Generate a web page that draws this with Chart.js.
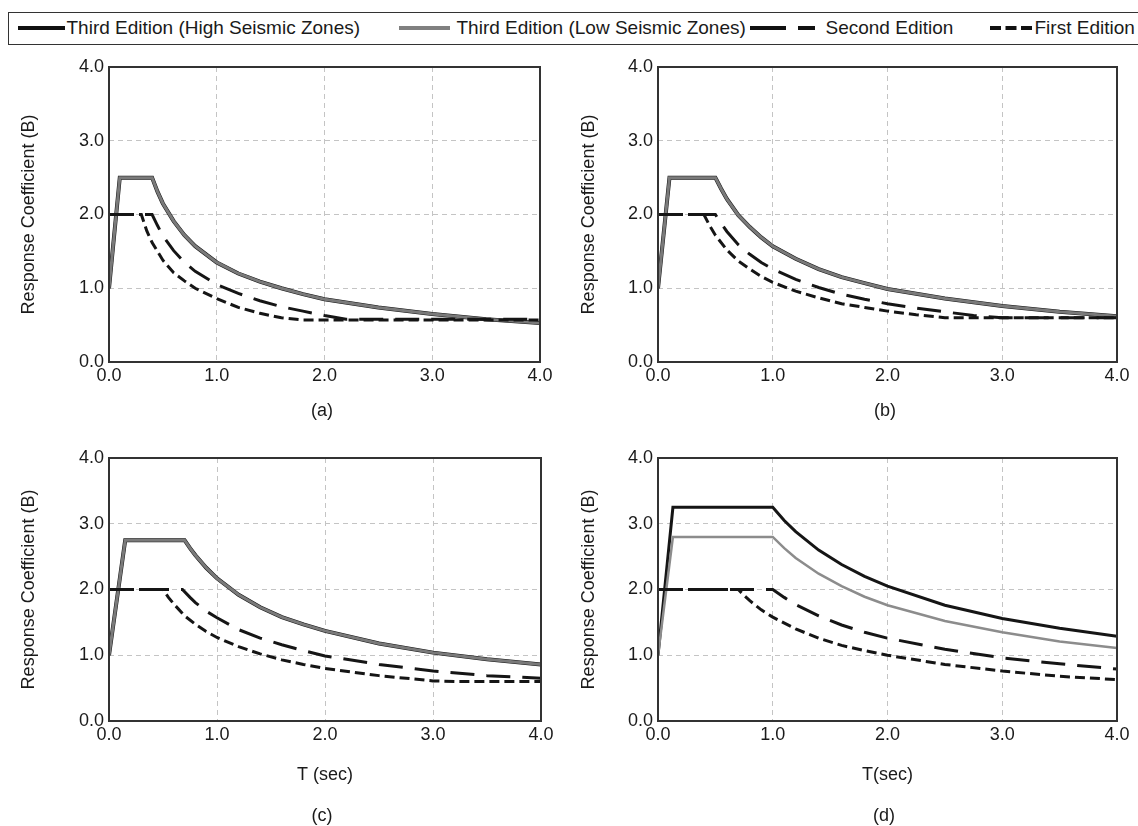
<!DOCTYPE html>
<html>
<head>
<meta charset="utf-8">
<script src="https://cdn.jsdelivr.net/npm/chart.js@4.4.1/dist/chart.umd.min.js"></script>
<style>
  body { margin: 0; background: #fff; font-family: "Liberation Sans", Arial, sans-serif; color: #1a1a1a; }
  #wrap { position: relative; width: 1138px; height: 826px; overflow: hidden; }
  .panel { position: absolute; }
  .cap { position: absolute; font-size: 18px; transform: translate(-50%, -50%); }
  #legend { position: absolute; left: 8px; top: 12px; width: 1140px; height: 33px; border: 1.5px solid #333; box-sizing: border-box; }
  .lg { position: absolute; top: 0; height: 30px; line-height: 30px; font-size: 19px; white-space: nowrap; }
</style>
</head>
<body>
<div id="wrap">
  <div id="legend">
    <svg class="lg" style="left:8.5px" width="47" height="30"><line x1="0" y1="15" x2="47" y2="15" stroke="#111" stroke-width="4"/></svg>
    <span class="lg" style="left:57.5px">Third Edition (High Seismic Zones)</span>
    <svg class="lg" style="left:389.5px" width="51" height="30"><line x1="0" y1="15" x2="51" y2="15" stroke="#808080" stroke-width="4"/></svg>
    <span class="lg" style="left:447.5px">Third Edition (Low Seismic Zones)</span>
    <svg class="lg" style="left:740.5px" width="65" height="30"><line x1="0" y1="15" x2="65" y2="15" stroke="#111" stroke-width="4" stroke-dasharray="36 12"/></svg>
    <span class="lg" style="left:816.5px">Second Edition</span>
    <svg class="lg" style="left:980.5px" width="42" height="30"><line x1="0" y1="15" x2="42" y2="15" stroke="#111" stroke-width="4" stroke-dasharray="11 4.5"/></svg>
    <span class="lg" style="left:1025.5px">First Edition</span>
  </div>

  <canvas id="chA" class="panel" style="left:0;top:50px" width="570" height="345"></canvas>
  <canvas id="chB" class="panel" style="left:549px;top:50px" width="589" height="345"></canvas>
  <canvas id="chC" class="panel" style="left:0;top:420px" width="570" height="370"></canvas>
  <canvas id="chD" class="panel" style="left:549px;top:420px" width="589" height="370"></canvas>

  <div class="cap" style="left:322px;top:410px">(a)</div>
  <div class="cap" style="left:885px;top:410px">(b)</div>
  <div class="cap" style="left:322px;top:815px">(c)</div>
  <div class="cap" style="left:884px;top:815px">(d)</div>
</div>

<script>
// ---- data (T in sec, B = response coefficient) ----
const axisTicks = [0, 1, 2, 3, 4];

// (a)
const aLowT = [0, 0.1, 0.4, 0.45, 0.5, 0.6, 0.7, 0.8, 1.0, 1.2, 1.4, 1.6, 1.8, 2.0, 2.5, 3.0, 3.5, 4.0];
const aLowB = [1.0, 2.5, 2.5, 2.31, 2.15, 1.91, 1.72, 1.57, 1.35, 1.2, 1.09, 1.0, 0.92, 0.85, 0.74, 0.65, 0.58, 0.53];
const aSecT = [0, 0.4, 0.45, 0.5, 0.6, 0.7, 0.8, 1.0, 1.2, 1.4, 1.6, 1.8, 2.0, 2.2, 4.0];
const aSecB = [2.0, 2.0, 1.85, 1.71, 1.51, 1.35, 1.23, 1.05, 0.93, 0.83, 0.75, 0.69, 0.63, 0.58, 0.58];
const aFirT = [0, 0.3, 0.35, 0.4, 0.5, 0.6, 0.7, 0.8, 1.0, 1.2, 1.4, 1.6, 1.8, 4.0];
const aFirB = [2.0, 2.0, 1.78, 1.62, 1.38, 1.21, 1.1, 1.0, 0.86, 0.74, 0.66, 0.6, 0.57, 0.57];

// (b)
const bLowT = [0, 0.1, 0.5, 0.55, 0.6, 0.7, 0.8, 0.9, 1.0, 1.2, 1.4, 1.6, 1.8, 2.0, 2.5, 3.0, 3.5, 4.0];
const bLowB = [1.0, 2.5, 2.5, 2.35, 2.21, 1.99, 1.83, 1.69, 1.57, 1.4, 1.26, 1.15, 1.07, 0.99, 0.86, 0.76, 0.68, 0.62];
const bSecT = [0, 0.5, 0.55, 0.6, 0.7, 0.8, 0.9, 1.0, 1.2, 1.4, 1.6, 1.8, 2.0, 2.25, 2.5, 2.75, 3.0, 4.0];
const bSecB = [2.0, 2.0, 1.88, 1.77, 1.59, 1.46, 1.35, 1.26, 1.12, 1.01, 0.92, 0.85, 0.79, 0.73, 0.68, 0.63, 0.6, 0.6];
const bFirT = [0, 0.4, 0.45, 0.5, 0.6, 0.7, 0.8, 0.9, 1.0, 1.2, 1.4, 1.6, 1.8, 2.0, 2.25, 2.5, 4.0];
const bFirB = [2.0, 2.0, 1.85, 1.72, 1.52, 1.37, 1.26, 1.16, 1.08, 0.96, 0.87, 0.79, 0.74, 0.69, 0.64, 0.6, 0.6];

// (c)
const cLowT = [0, 0.15, 0.7, 0.75, 0.8, 0.9, 1.0, 1.2, 1.4, 1.6, 1.8, 2.0, 2.5, 3.0, 3.5, 4.0];
const cLowB = [1.0, 2.75, 2.75, 2.63, 2.52, 2.33, 2.17, 1.92, 1.73, 1.58, 1.47, 1.37, 1.18, 1.04, 0.94, 0.86];
const cSecT = [0, 0.68, 0.75, 0.8, 0.9, 1.0, 1.2, 1.4, 1.6, 1.8, 2.0, 2.5, 3.0, 3.5, 4.0];
const cSecB = [2.0, 2.0, 1.88, 1.8, 1.67, 1.57, 1.39, 1.26, 1.16, 1.07, 0.99, 0.86, 0.76, 0.69, 0.65];
const cFirT = [0, 0.5, 0.55, 0.6, 0.7, 0.8, 0.9, 1.0, 1.2, 1.4, 1.6, 1.8, 2.0, 2.5, 3.0, 3.2, 4.0];
const cFirB = [2.0, 2.0, 1.88, 1.78, 1.6, 1.47, 1.36, 1.27, 1.13, 1.02, 0.93, 0.86, 0.8, 0.69, 0.61, 0.6, 0.6];

// (d)
const dHighT = [0, 0.13, 1.0, 1.1, 1.2, 1.4, 1.6, 1.8, 2.0, 2.5, 3.0, 3.5, 4.0];
const dHighB = [1.0, 3.25, 3.25, 3.05, 2.88, 2.6, 2.38, 2.2, 2.05, 1.76, 1.56, 1.41, 1.29];
const dLowT = [0, 0.13, 1.0, 1.1, 1.2, 1.4, 1.6, 1.8, 2.0, 2.5, 3.0, 3.5, 4.0];
const dLowB = [1.0, 2.8, 2.8, 2.63, 2.48, 2.24, 2.05, 1.89, 1.76, 1.52, 1.35, 1.21, 1.11];
const dSecT = [0, 1.0, 1.1, 1.2, 1.4, 1.6, 1.8, 2.0, 2.5, 3.0, 3.5, 4.0];
const dSecB = [2.0, 2.0, 1.88, 1.77, 1.6, 1.46, 1.35, 1.26, 1.09, 0.96, 0.87, 0.79];
const dFirT = [0, 0.7, 0.75, 0.8, 0.9, 1.0, 1.2, 1.4, 1.6, 1.8, 2.0, 2.5, 3.0, 3.5, 4.0];
const dFirB = [2.0, 2.0, 1.91, 1.83, 1.69, 1.58, 1.4, 1.26, 1.15, 1.07, 1.0, 0.86, 0.76, 0.68, 0.63];

function pts(T, B) {
  return T.map((t, i) => ({ x: t, y: B[i] }));
}

// box around the plot area
const framePlugin = {
  id: "frame",
  afterDraw(chart) {
    const { ctx, chartArea: a } = chart;
    ctx.save();
    ctx.strokeStyle = "#333";
    ctx.lineWidth = 2;
    ctx.strokeRect(a.left, a.top, a.right - a.left, a.bottom - a.top);
    ctx.restore();
  },
};

function highSet(T, B, width) {
  return { label: "Third Edition (High Seismic Zones)", data: pts(T, B), borderColor: "#151515", borderWidth: width, order: 2 };
}
function lowSet(T, B, color, width) {
  return { label: "Third Edition (Low Seismic Zones)", data: pts(T, B), borderColor: color, borderWidth: width, order: 1 };
}
function secSet(T, B) {
  return { label: "Second Edition", data: pts(T, B), borderColor: "#151515", borderWidth: 3, borderDash: [24, 12], order: 0 };
}
function firSet(T, B) {
  return { label: "First Edition", data: pts(T, B), borderColor: "#151515", borderWidth: 3, borderDash: [10, 5], order: 0 };
}

function makePanel(id, datasets, opt) {
  const ctx = document.getElementById(id).getContext("2d");
  const tickFont = { family: "Liberation Sans", size: 18 };
  return new Chart(ctx, {
    type: "line",
    data: { datasets },
    plugins: [framePlugin],
    options: {
      responsive: false,
      animation: false,
      layout: { padding: { left: 0, right: opt.padRight, top: opt.padTop, bottom: 0 } },
      elements: { point: { radius: 0 }, line: { tension: 0 } },
      plugins: { legend: { display: false }, tooltip: { enabled: false } },
      scales: {
        x: {
          type: "linear",
          min: 0,
          max: 4,
          afterBuildTicks: (s) => { s.ticks = axisTicks.map((v) => ({ value: v })); },
          afterFit: (s) => { s.height = opt.xHeight; s.paddingLeft = 0; s.paddingRight = 0; },
          ticks: { font: tickFont, color: "#1a1a1a", padding: 3, maxRotation: 0, callback: (v) => v.toFixed(1) },
          grid: { color: "#c4c4c4", lineWidth: 1, drawTicks: false },
          border: { display: false, dash: [5, 4] },
          title: {
            display: !!opt.xTitle,
            text: opt.xTitle || "",
            font: { family: "Liberation Sans", size: 18 },
            color: "#1a1a1a",
            padding: { top: 0, bottom: 4 },
          },
        },
        y: {
          type: "linear",
          min: 0,
          max: 4,
          afterBuildTicks: (s) => { s.ticks = axisTicks.map((v) => ({ value: v })); },
          afterFit: (s) => { s.width = 109; s.paddingTop = 0; s.paddingBottom = 0; },
          ticks: { font: tickFont, color: "#1a1a1a", padding: 5, callback: (v) => v.toFixed(1) },
          grid: { color: "#c4c4c4", lineWidth: 1, drawTicks: false },
          border: { display: false, dash: [5, 4] },
          title: {
            display: true,
            text: "Response Coefficient (B)",
            font: { family: "Liberation Sans", size: 18 },
            color: "#1a1a1a",
            padding: { top: opt.yTitlePad, bottom: 0 },
          },
        },
      },
    },
  });
}

makePanel("chA", [
  lowSet(aLowT, aLowB, "#7a7a7a", 3),
  highSet(aLowT, aLowB, 4),
  secSet(aSecT, aSecB),
  firSet(aFirT, aFirB),
], { padRight: 30, padTop: 17, xHeight: 33, yTitlePad: 18 });

makePanel("chB", [
  lowSet(bLowT, bLowB, "#7a7a7a", 3),
  highSet(bLowT, bLowB, 4),
  secSet(bSecT, bSecB),
  firSet(bFirT, bFirB),
], { padRight: 21, padTop: 17, xHeight: 33, yTitlePad: 29 });

makePanel("chC", [
  lowSet(cLowT, cLowB, "#7a7a7a", 3),
  highSet(cLowT, cLowB, 4),
  secSet(cSecT, cSecB),
  firSet(cFirT, cFirB),
], { padRight: 29, padTop: 38, xHeight: 69, yTitlePad: 18, xTitle: "T (sec)" });

makePanel("chD", [
  highSet(dHighT, dHighB, 3),
  lowSet(dLowT, dLowB, "#8c8c8c", 2.5),
  secSet(dSecT, dSecB),
  firSet(dFirT, dFirB),
], { padRight: 21, padTop: 38, xHeight: 69, yTitlePad: 29, xTitle: "T(sec)" });
</script>
</body>
</html>
